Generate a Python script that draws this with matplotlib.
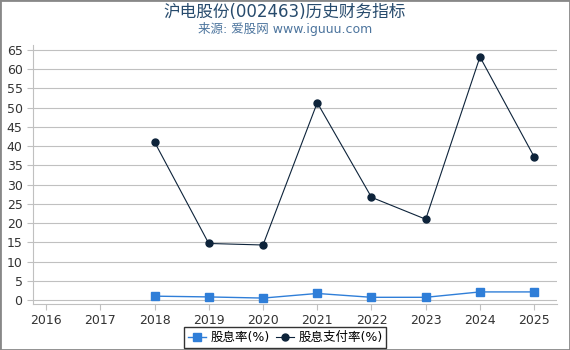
import matplotlib.pyplot as plt
from matplotlib.patches import Rectangle

plt.rcParams['font.family'] = ['DejaVu Sans', 'Noto Sans CJK SC']

years = [2016, 2017, 2018, 2019, 2020, 2021, 2022, 2023, 2024, 2025]
data_years = [2018, 2019, 2020, 2021, 2022, 2023, 2024, 2025]
dividend_yield = [1.0, 0.8, 0.5, 1.7, 0.7, 0.7, 2.1, 2.1]
payout_ratio = [41.1, 14.7, 14.3, 51.3, 26.7, 21.0, 63.2, 37.2]

fig = plt.figure(figsize=(5.7, 3.5), dpi=100)
ax = fig.add_axes([33 / 570, 1 - 304 / 350, (557 - 33) / 570, (304 - 45) / 350])

ax.plot(data_years, dividend_yield, '-s', color='#2f7ed8', markersize=6,
        linewidth=1, label='股息率(%)')
ax.plot(data_years, payout_ratio, '-o', color='#0d233a', markersize=5,
        linewidth=0.8, label='股息支付率(%)')

ax.set_xlim(2015.76, 2025.42)
ax.set_ylim(-1.04, 66.3)
ax.set_xticks(years)
ax.set_yticks(range(0, 70, 5))
ax.grid(axis='y', color='#c0c0c0', linewidth=0.8)
ax.set_axisbelow(True)
for side in ['top', 'right']:
    ax.spines[side].set_visible(False)
ax.spines['left'].set_color('#c0c0c0')
ax.spines['bottom'].set_color('#c0c0c0')
ax.tick_params(axis='both', colors='#c0c0c0', labelcolor='#333333', labelsize=9, length=4)

fig.text(0.5, 0.965, '沪电股份(002463)历史财务指标', ha='center', va='center',
         fontsize=12, color='#274b6d')
fig.text(0.5, 0.918, '来源: 爱股网 www.iguuu.com', ha='center', va='center',
         fontsize=9, color='#4d759e')

leg = fig.legend(loc='center', bbox_to_anchor=(0.5, 0.036), ncol=2, fontsize=9,
                 frameon=True, fancybox=False, handlelength=1.5, handletextpad=0.3,
                 columnspacing=0.5, borderpad=0.3)
leg.get_frame().set_edgecolor('black')
leg.get_frame().set_linewidth(1)

fig.patches.append(Rectangle((0, 0), 1, 1, transform=fig.transFigure, fill=False,
                             edgecolor='#888888', linewidth=2))

fig.savefig('out.png', dpi=100)
